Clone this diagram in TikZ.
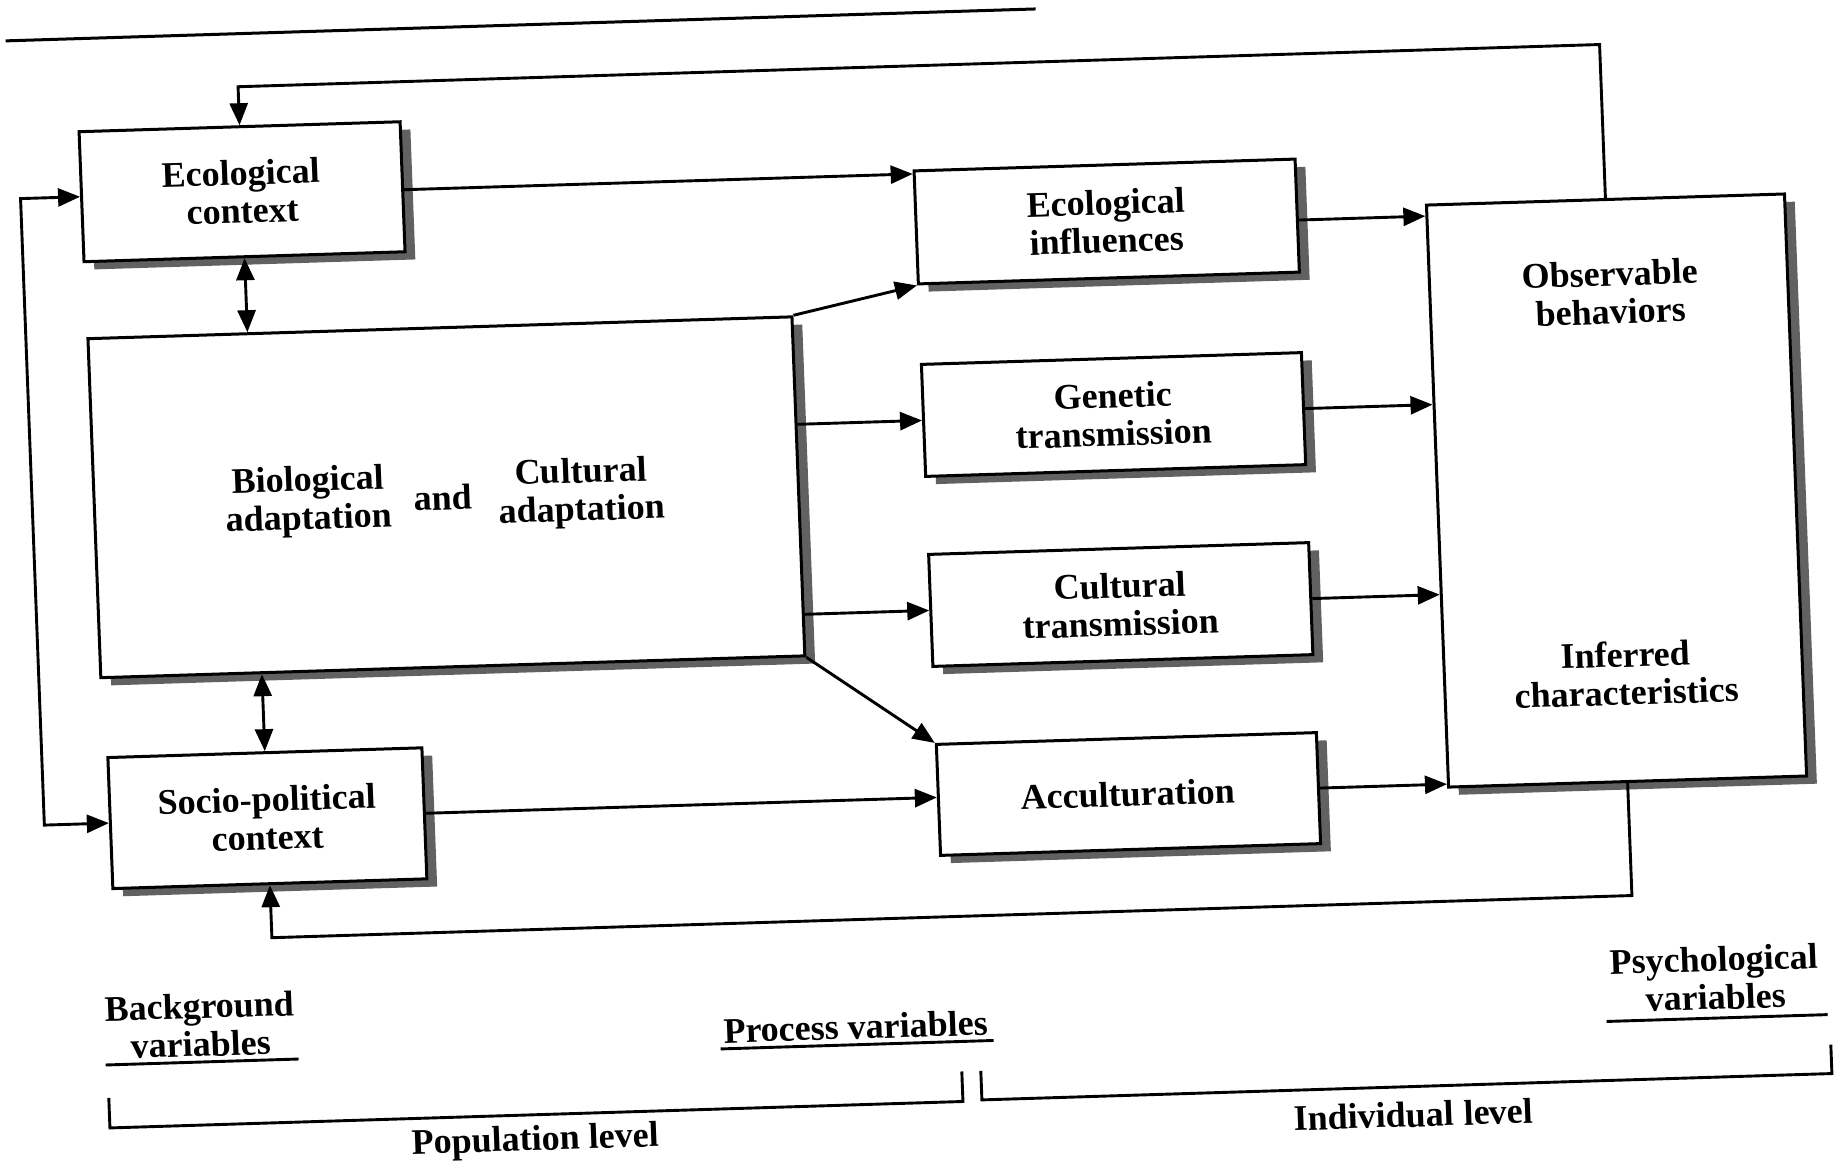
\documentclass[tikz,border=0pt]{standalone}
\usepackage{fontspec}
\setmainfont{Liberation Serif}
\usetikzlibrary{arrows.meta,shadows}
\tikzset{
  lbl/.style={font=\bfseries\fontsize{36}{38}\selectfont, align=center, inner sep=0pt},
  boxn/.style={lbl, draw, line width=3pt, fill=white,
    drop shadow={shadow xshift=10pt, shadow yshift=-8pt, opacity=1, fill=black!62}},
  conn/.style={line width=2.9pt},
  arr/.style={conn, -{Triangle[length=22pt,width=18pt]}},
  darr/.style={conn, {Triangle[length=22pt,width=18pt]}-{Triangle[length=22pt,width=18pt]}},
}
\begin{document}
\begin{tikzpicture}[x=1pt,y=-1pt]
\useasboundingbox (0,0) rectangle (1837,1160);
\begin{scope}[transform canvas={cm={1,0.031,-0.038,1,(0pt,0pt)}}]
% top rule
\coordinate (ruleL) at (4,41);
\coordinate (ruleR) at (1034,41);
\draw[line width=3pt] (ruleL) -- (ruleR);

% boxes
\node[boxn, minimum width=321pt, minimum height=130pt] (ctx) at (234.5,199) {Ecological\\context};
\node[boxn, minimum width=704pt, minimum height=339pt] (adapt) at (427,510.5) {};
\node[lbl] (bio) at (289,510.5) {Biological\\adaptation};
\node[lbl] (andt) at (424,510.5) {and};
\node[lbl] (cul) at (562,510.5) {Cultural\\adaptation};
\node[boxn, minimum width=314pt, minimum height=131pt] (soc) at (236,825.5) {Socio-political\\context};
\node[boxn, minimum width=381pt, minimum height=113pt] (einf) at (1097,255.5) {Ecological\\influences};
\node[boxn, minimum width=380pt, minimum height=112pt] (gen) at (1096.5,448.5) {Genetic\\transmission};
\node[boxn, minimum width=380pt, minimum height=112pt] (cult) at (1096.5,638.5) {Cultural\\transmission};
\node[boxn, minimum width=380pt, minimum height=111pt] (acc) at (1097,828) {Acculturation};
\node[boxn, minimum width=358pt, minimum height=582pt] (psy) at (1596,540) {};
\node[lbl] (obs) at (1597.5,342) {Observable\\behaviors};
\node[lbl] (inf) at (1599,723) {Inferred\\characteristics};

% feedback loops
\coordinate (fbT) at (0,94);
\coordinate (fbB) at (0,945);
\coordinate (lx) at (13,500);
\draw[arr] (psy.north) -- (psy.north |- fbT) -- (ctx.north |- fbT) -- (ctx.north);
\draw[arr] (psy.south) -- (psy.south |- fbB) -- (soc.south |- fbB) -- (soc.south);
\draw[darr] (ctx.west) -| (lx) |- (soc.west);

% vertical double arrows
\draw[darr] (ctx.south) -- (ctx.south |- adapt.north);
\draw[darr] (soc.north) -- (soc.north |- adapt.south);

% forward arrows
\coordinate (c1) at ([yshift=-3pt]ctx.east);
\draw[arr] (c1) -- (c1 -| einf.west);
\coordinate (c2) at ([yshift=-4.5pt]einf.east);
\draw[arr] (c2) -- (c2 -| psy.west);
\draw[arr] (gen.east) -- (gen.east -| psy.west);
\draw[arr] (cult.east) -- (cult.east -| psy.west);
\draw[arr] (acc.east) -- (acc.east -| psy.west);
\draw[arr] (adapt.east |- gen.west) -- (gen.west);
\draw[arr] (adapt.east |- cult.west) -- (cult.west);
\draw[arr] (adapt.north east) -- (einf.south west);
\draw[arr] (adapt.south east) -- (acc.north west);
\draw[arr] (soc.east) -- (soc.east -| acc.west);

% bottom labels
\node[lbl] (bg) at (161,1030) {Background\\variables};
\node[lbl] (proc) at (816,1052) {Process variables};
\node[lbl] (psyv) at (1676,1030) {Psychological\\variables};
\draw[conn] (65,1067) -- (258,1067);
\draw[conn] (680,1070) -- (953,1070);
\draw[conn] (1566,1070) -- (1787,1070);

% level brackets
\draw[conn] (67,1100) -- (67,1130) -- (920,1130) -- (920,1100);
\draw[conn] (939,1100) -- (939,1129) -- (1789,1129) -- (1789,1100);
\node[lbl] (pop) at (492,1157) {Population level};
\node[lbl] (ind) at (1370,1157) {Individual level};
\end{scope}
\end{tikzpicture}
\end{document}
